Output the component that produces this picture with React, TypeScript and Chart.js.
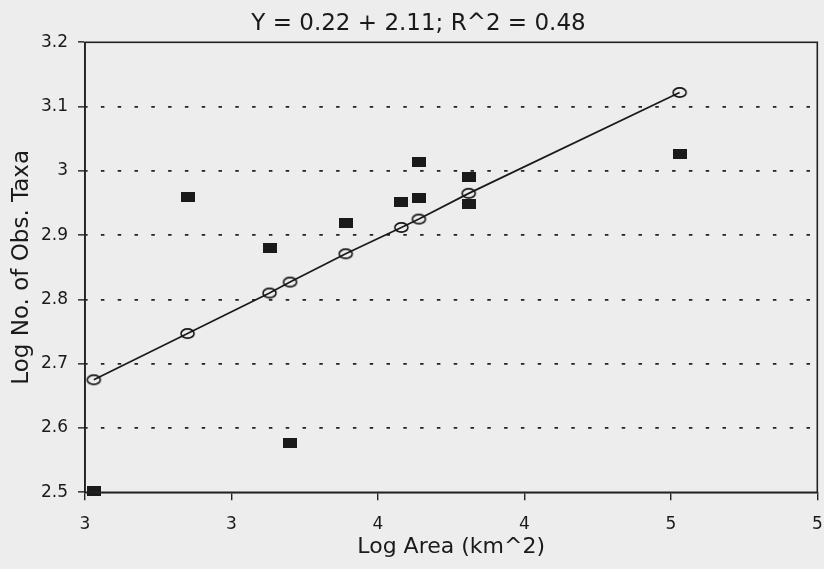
import { useEffect, useRef } from "react";
import { Chart, registerables } from "chart.js";

Chart.register(...registerables);

const chartTitle = "Y = 0.22 + 2.11; R^2 = 0.48";
const xAxisTitle = "Log Area (km^2)";
const yAxisTitle = "Log No. of Obs. Taxa";

const xTickValues = [2.5, 3, 3.5, 4, 4.5, 5];
const xTickLabels = ["3", "3", "4", "4", "5", "5"];
const yTickValues = [2.5, 2.6, 2.7, 2.8, 2.9, 3.0, 3.1, 3.2];
const yTickLabels = ["2.5", "2.6", "2.7", "2.8", "2.9", "3", "3.1", "3.2"];

// Observed values (filled squares)
const observedX = [2.53, 2.85, 3.13, 3.2, 3.39, 3.58, 3.64, 3.64, 3.81, 3.81, 4.53];
const observedY = [2.502, 2.959, 2.88, 2.577, 2.919, 2.951, 2.958, 3.014, 2.991, 2.948, 3.026];

// Predicted values (open circles on regression line)
const predictedX = [2.53, 2.85, 3.13, 3.2, 3.39, 3.58, 3.64, 3.81, 4.53];
const predictedY = [2.675, 2.747, 2.81, 2.827, 2.871, 2.912, 2.925, 2.965, 3.122];

const FONT = "'DejaVu Sans', 'Liberation Sans', Arial, sans-serif";
const INK = "#1a1a1a";
const BG = "#ededed";
const Y_MIN = yTickValues[0];
const Y_MAX = yTickValues[yTickValues.length - 1];

function makeSquare(): HTMLCanvasElement {
  const c = document.createElement("canvas");
  c.width = 14;
  c.height = 10;
  const g = c.getContext("2d")!;
  g.fillStyle = "#1a1a1a";
  g.fillRect(0, 0, 14, 10);
  return c;
}

function makeEllipse(): HTMLCanvasElement {
  const c = document.createElement("canvas");
  c.width = 17;
  c.height = 13;
  const g = c.getContext("2d")!;
  g.strokeStyle = "#151515";
  g.lineWidth = 1.6;
  g.beginPath();
  g.ellipse(8.5, 6.5, 6.5, 4.6, 0, 0, Math.PI * 2);
  g.stroke();
  return c;
}

export default function App() {
  const canvasRef = useRef<HTMLCanvasElement | null>(null);

  useEffect(() => {
    const canvas = canvasRef.current;
    if (!canvas) return;

    const square = makeSquare();
    const ellipse = makeEllipse();

    const decor = {
      id: "decor",
      beforeDraw(chart: any) {
        const ctx = chart.ctx;
        ctx.save();
        ctx.fillStyle = BG;
        ctx.fillRect(0, 0, chart.width, chart.height);
        ctx.restore();
      },
      afterDraw(chart: any) {
        const ctx = chart.ctx;
        const a = chart.chartArea;
        ctx.save();
        ctx.strokeStyle = "#222222";
        ctx.lineWidth = 1.6;
        ctx.strokeRect(a.left, a.top, a.right - a.left, a.bottom - a.top);
        ctx.fillStyle = INK;
        ctx.font = `23px ${FONT}`;
        ctx.textAlign = "center";
        ctx.textBaseline = "middle";
        ctx.fillText(chartTitle, 418.5, 24.5);
        ctx.restore();
      },
    };

    const chart = new Chart(canvas, {
      type: "scatter",
      data: {
        datasets: [
          {
            label: "Observed",
            data: observedX.map((x, i) => ({ x, y: observedY[i] })),
            pointStyle: square as any,
            pointRadius: 5,
            pointHoverRadius: 5,
            showLine: false,
            clip: false as any,
          },
          {
            label: "Predicted",
            data: predictedX.map((x, i) => ({ x, y: predictedY[i] })),
            pointStyle: ellipse as any,
            pointRadius: 5,
            pointHoverRadius: 5,
            showLine: true,
            borderColor: "#1a1a1a",
            borderWidth: 1.7,
            fill: false,
            tension: 0,
            clip: false as any,
          },
        ],
      },
      options: {
        responsive: false,
        animation: false,
        events: [],
        layout: { padding: { top: 42.3, right: 2.3, left: 0, bottom: 0 } },
        plugins: {
          legend: { display: false },
          tooltip: { enabled: false },
          title: { display: false },
        },
        scales: {
          x: {
            type: "linear",
            min: 2.5,
            max: 5,
            afterBuildTicks: (s: any) => {
              s.ticks = xTickValues.map((v) => ({ value: v }));
            },
            afterFit: (s: any) => {
              s.height = 76.7;
              s.paddingLeft = 0;
              s.paddingRight = 0;
            },
            ticks: {
              callback: (_v: any, i: number) => xTickLabels[i],
              font: { family: FONT, size: 17 },
              color: INK,
              padding: 14,
              autoSkip: false,
              maxRotation: 0,
            },
            grid: {
              drawOnChartArea: false,
              drawTicks: true,
              tickLength: 8,
              color: "#222222",
              lineWidth: 1.4,
            },
            border: { display: true, color: "#222222", width: 1.6 },
            title: {
              display: true,
              text: xAxisTitle,
              font: { family: FONT, size: 22 },
              color: INK,
              padding: { top: 0, bottom: 8.3 },
            },
          },
          y: {
            type: "linear",
            min: Y_MIN,
            max: Y_MAX,
            afterBuildTicks: (s: any) => {
              s.ticks = yTickValues.map((v) => ({ value: v }));
            },
            afterFit: (s: any) => {
              s.width = 85;
              s.paddingTop = 0;
              s.paddingBottom = 0;
            },
            ticks: {
              callback: (_v: any, i: number) => yTickLabels[i],
              font: { family: FONT, size: 17 },
              color: INK,
              padding: 10,
              autoSkip: false,
            },
            grid: {
              drawOnChartArea: true,
              drawTicks: true,
              tickLength: 7,
              color: (c: any) =>
                c.tick && (Math.abs(c.tick.value - Y_MIN) < 1e-9 || Math.abs(c.tick.value - Y_MAX) < 1e-9)
                  ? "rgba(0,0,0,0)"
                  : "#222222",
              tickColor: "#222222",
              lineWidth: 1.7,
              tickBorderDash: [],
              tickWidth: 1.4,
            } as any,
            border: {
              display: true,
              color: "#222222",
              width: 1.6,
              dash: [3.5, 13.3],
              dashOffset: 1.5,
            },
            title: {
              display: true,
              text: yAxisTitle,
              font: { family: FONT, size: 23 },
              color: INK,
              padding: { top: 8, bottom: 0 },
            },
          },
        },
      },
      plugins: [decor],
    });

    return () => chart.destroy();
  }, []);

  return (
    <div style={{ position: "absolute", left: 0, top: 0, width: 824, height: 569 }}>
      <canvas ref={canvasRef} width={824} height={569} style={{ display: "block" }} />
    </div>
  );
}
